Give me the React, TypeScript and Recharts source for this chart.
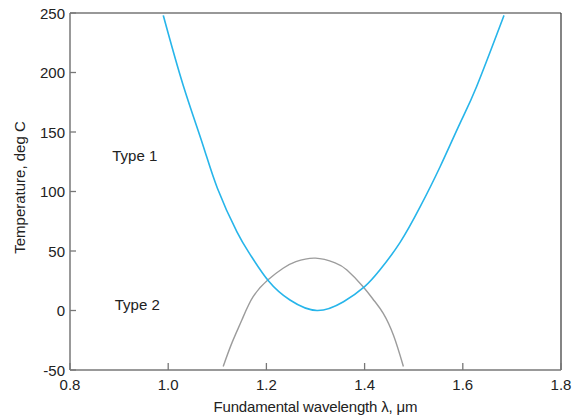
import { LineChart, Line, XAxis, YAxis, ReferenceLine, ReferenceDot } from "recharts";

// Type 1 (blue) temperature curve
const type1Lambda = [0.99, 1.03, 1.07, 1.1, 1.14, 1.167, 1.204, 1.248, 1.303, 1.357, 1.4, 1.431, 1.472, 1.513, 1.554, 1.594, 1.628, 1.684];
const type1Temp = [248, 190, 140, 103, 66, 47, 25, 8.8, 0, 7.4, 20, 34, 57, 87, 121, 157, 188, 248];

// Type 2 (gray) temperature curve
const type2Lambda = [1.112, 1.13, 1.15, 1.173, 1.204, 1.234, 1.26, 1.3, 1.34, 1.364, 1.397, 1.42, 1.438, 1.459, 1.479];
const type2Temp = [-47, -27, -8, 11.6, 26, 35.5, 41, 44, 40, 34, 20, 8, -2.4, -21, -47];

const xTicks = [0.8, 1.0, 1.2, 1.4, 1.6, 1.8];
const yTicks = [-50, 0, 50, 100, 150, 200, 250];

const type1 = type1Lambda.map((x, i) => ({ x, t: type1Temp[i] }));
const type2 = type2Lambda.map((x, i) => ({ x, t: type2Temp[i] }));

const font = "'Liberation Sans', Arial, sans-serif";

const YTick = (props: any) => {
  const { x, y, payload } = props;
  return (
    <g>
      <line x1={x} x2={x + 6} y1={y} y2={y} stroke="#777" strokeWidth={1.3} />
      <text x={x - 5} y={y + 2} textAnchor="end" dominantBaseline="middle" fontSize={15} fill="#222" fontFamily={font}>
        {payload.value}
      </text>
    </g>
  );
};

const XTick = (props: any) => {
  const { x, y, payload } = props;
  return (
    <g>
      <line x1={x} x2={x} y1={y} y2={y - 7} stroke="#777" strokeWidth={1.3} />
      <text x={x} y={y + 16} textAnchor="middle" dominantBaseline="middle" fontSize={15} fill="#222" fontFamily={font}>
        {Number(payload.value).toFixed(1)}
      </text>
    </g>
  );
};

const XLabel = (props: any) => {
  const vb = props.viewBox || {};
  const cx = vb.x + vb.width / 2;
  const y = vb.y + vb.height - 5;
  return (
    <text
      x={cx}
      y={y}
      textAnchor="middle"
      fontSize={15}
      fill="#222"
      fontFamily={font}
      textLength={204}
      lengthAdjust="spacing"
    >
      Fundamental wavelength {"\u03BB"}, {"\u03BC"}m
    </text>
  );
};

export default function App() {
  return (
    <div style={{ position: "absolute", left: 0, top: 0, background: "#fff" }}>
      <LineChart width={584} height={417} margin={{ top: 13, right: 23, bottom: 0, left: 0 }}>
        <XAxis
          type="number"
          dataKey="x"
          domain={[0.8, 1.8]}
          ticks={xTicks}
          tick={<XTick />}
          tickLine={false}
          tickSize={0}
          tickMargin={0}
          height={47}
          stroke="#777"
          strokeWidth={1.5}
          allowDataOverflow
          label={<XLabel />}
        />
        <YAxis
          type="number"
          domain={[-50, 250]}
          ticks={yTicks}
          tick={<YTick />}
          tickLine={false}
          tickSize={0}
          tickMargin={0}
          width={70}
          stroke="#777"
          strokeWidth={1.5}
          allowDataOverflow
          label={{
            value: "Temperature, deg C",
            angle: -90,
            position: "insideLeft",
            offset: 20,
            dy: -4,
            style: { textAnchor: "middle" },
            fontSize: 15,
            fill: "#222",
            fontFamily: font,
          }}
        />
        <ReferenceLine y={250} stroke="#333" strokeWidth={1.2} />
        <ReferenceLine x={1.8} stroke="#333" strokeWidth={1.2} />
        <ReferenceDot
          x={0.932}
          y={130}
          r={0}
          fill="none"
          stroke="none"
          label={{ value: "Type  1", position: "center", fontSize: 15, fill: "#222", fontFamily: font }}
        />
        <ReferenceDot
          x={0.937}
          y={5}
          r={0}
          fill="none"
          stroke="none"
          label={{ value: "Type  2", position: "center", fontSize: 15, fill: "#222", fontFamily: font }}
        />
        <Line
          data={type2}
          dataKey="t"
          type="natural"
          stroke="#9c9c9c"
          strokeWidth={1.4}
          dot={false}
          isAnimationActive={false}
        />
        <Line
          data={type1}
          dataKey="t"
          type="natural"
          stroke="#27b5ea"
          strokeWidth={1.6}
          dot={false}
          isAnimationActive={false}
        />
      </LineChart>
    </div>
  );
}
